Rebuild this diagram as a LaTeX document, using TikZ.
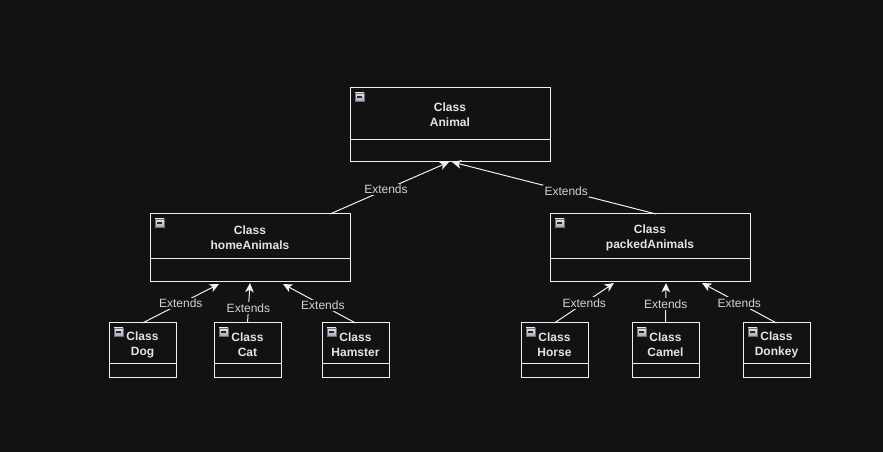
\documentclass[tikz,border=0pt]{standalone}
\usepackage{fontspec}
\setmainfont{Liberation Sans}
\usepackage{tikz}
\usetikzlibrary{arrows.meta, positioning, calc}
\definecolor{bgDark}{HTML}{121212}
\definecolor{lineLight}{HTML}{F0F0F0}
\definecolor{iconTop}{HTML}{E2E2E8}
\definecolor{iconBottom}{HTML}{A8A8B8}
\definecolor{iconBorder}{HTML}{6E6E7A}
\tikzset{
  classbox/.style = {draw=lineLight, line width=0.75pt, outer sep=0pt, inner sep=0pt},
  classtitle/.style = {text=lineLight!95!black, align=center, inner sep=0pt, font=\fontsize{9}{11.25}\selectfont\bfseries},
  extends/.style = {-{Stealth[length=7pt, width=6.5pt, inset=2pt]}, draw=lineLight, line width=0.75pt},
  extlabel/.style = {fill=bgDark, text=lineLight!88!black, inner sep=1pt, font=\fontsize{9}{11}\selectfont},
  collapse/.pic = {
    \draw[draw=iconBorder, top color=iconTop, bottom color=iconBottom, line width=0.5pt] (0,0) rectangle (9,8);
    \draw[black!85, line width=1.3pt] (2,4) -- (7,4);
  }
}

\begin{document}
\begin{tikzpicture}[x=0.75pt, y=-0.75pt]
  % background and page size
  \fill[bgDark] (0,0) rectangle (883,452);

  % top class
  \node[classbox, minimum width=150pt, minimum height=55.5pt] (animal) at (450,125) {};
  \draw[classbox] ($(animal.north west)+(0,52)$) -- ($(animal.north east)+(0,52)$);
  \node[classtitle] (animalTitle) at ($(animal.north)+(0,26.5)$) {Class\\Animal};
  \pic at ($(animal.north west)+(5,5)$) {collapse};

  % middle classes
  \node[classbox, minimum width=150pt, minimum height=51pt] (home) at (250,248) {};
  \draw[classbox] ($(home.north west)+(0,45)$) -- ($(home.north east)+(0,45)$);
  \node[classtitle] (homeTitle) at ($(home.north)+(0,23.5)$) {Class\\homeAnimals};
  \pic at ($(home.north west)+(5,5)$) {collapse};

  \node[classbox, minimum width=150pt, minimum height=51pt] (packed) at (650,248) {};
  \draw[classbox] ($(packed.north west)+(0,45)$) -- ($(packed.north east)+(0,45)$);
  \node[classtitle] (packedTitle) at ($(packed.north)+(0,23.5)$) {Class\\packedAnimals};
  \pic at ($(packed.north west)+(5,5)$) {collapse};

  % leaf classes
  \node[classbox, minimum width=50.25pt, minimum height=41.25pt] (dog) at (142.5,350.5) {};
  \node[classbox, minimum width=50.25pt, minimum height=41.25pt] (cat) at (247.5,350.5) {};
  \node[classbox, minimum width=50.25pt, minimum height=41.25pt] (hamster) at (355.5,350.5) {};
  \node[classbox, minimum width=50.25pt, minimum height=41.25pt] (horse) at (554.5,350.5) {};
  \node[classbox, minimum width=50.25pt, minimum height=41.25pt] (camel) at (665.5,350.5) {};
  \node[classbox, minimum width=50.25pt, minimum height=41.25pt] (donkey) at (776.5,350.5) {};

  \foreach \leaf/\name in {dog/Dog, cat/Cat, hamster/Hamster, horse/Horse, camel/Camel, donkey/Donkey} {
    \draw[classbox] ($(\leaf.north west)+(0,41)$) -- ($(\leaf.north east)+(0,41)$);
    \node[classtitle] (\leaf Title) at ($(\leaf.north)+(0,21.5)$) {Class\\\name};
    \pic at ($(\leaf.north west)+(5,5)$) {collapse};
  }

  % inheritance
  \draw[extends] ($(home.north east)+(-20,0)$) -- node[extlabel, pos=0.47] {Extends} ($(animal.south)+(-1,0)$);
  \draw[extends] ($(packed.north)+(6,0)$) -- node[extlabel, pos=0.44] {Extends} ($(animal.south)+(2,0)$);

  \draw[extends] (dog.north) -- node[extlabel, pos=0.5] {Extends} ($(home.south west)+(69,2)$);
  \draw[extends] (cat.north) -- node[extlabel, pos=0.37] {Extends} ($(home.south)+(0,1)$);
  \draw[extends] (hamster.north) -- node[extlabel, pos=0.45] {Extends} ($(home.south east)+(-67,2)$);

  \draw[extends] (horse.north) -- node[extlabel, pos=0.5] {Extends} ($(packed.south west)+(64,1)$);
  \draw[extends] (camel.north) -- node[extlabel, pos=0.47] {Extends} ($(packed.south)+(16,1)$);
  \draw[extends] (donkey.north) -- node[extlabel, pos=0.5] {Extends} ($(packed.south east)+(-48,1)$);
\end{tikzpicture}
\end{document}
